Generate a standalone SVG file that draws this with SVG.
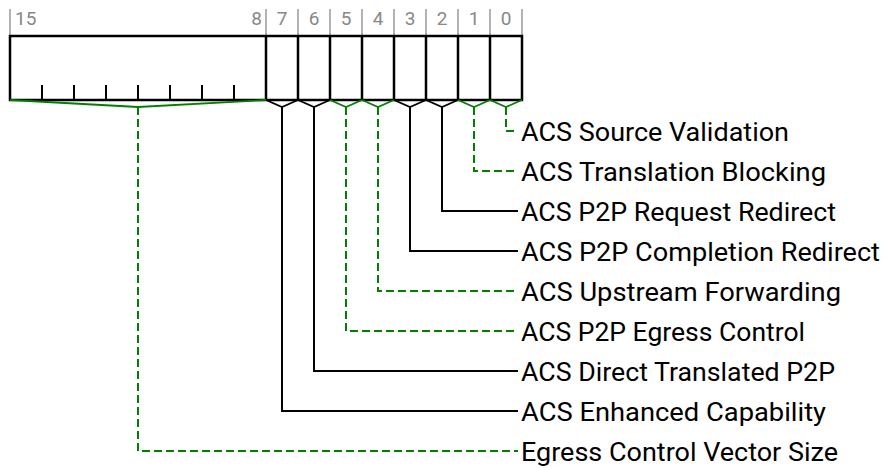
<svg xmlns="http://www.w3.org/2000/svg" width="884" height="468" viewBox="0 0 884 468">
<style>
.bg{fill:#fff}
.num{font-family:Roboto,"Liberation Sans",sans-serif;font-size:19px;fill:#888}
.tick{stroke:#999;stroke-width:1.5;fill:none}
.box{fill:none;stroke:#000;stroke-width:2.5}
.div{stroke:#000;stroke-width:2.5}
.sub{stroke:#000;stroke-width:2}
.lbl{font-family:Roboto,"Liberation Sans",sans-serif;font-size:26px;fill:#000}
.bk{fill:none;stroke:#000;stroke-width:1.8}
.gr{fill:none;stroke:#008000;stroke-width:1.8}
.gd{fill:none;stroke:#008000;stroke-width:2;stroke-dasharray:8 4}
.bs{fill:none;stroke:#000;stroke-width:2}
</style>
<rect class="bg" x="0" y="0" width="884" height="468"/>
<g id="bit-numbers">
<path class="tick" d="M10 9V36M266 9V36M298 9V36M330 9V36M362 9V36M394 9V36M426 9V36M458 9V36M490 9V36M522 9V36"/>
<text class="num" x="15" y="25">15</text>
<text class="num" x="262" y="25" text-anchor="end">8</text>
<text class="num" x="282" y="25" text-anchor="middle">7</text>
<text class="num" x="314" y="25" text-anchor="middle">6</text>
<text class="num" x="346" y="25" text-anchor="middle">5</text>
<text class="num" x="378" y="25" text-anchor="middle">4</text>
<text class="num" x="410" y="25" text-anchor="middle">3</text>
<text class="num" x="442" y="25" text-anchor="middle">2</text>
<text class="num" x="474" y="25" text-anchor="middle">1</text>
<text class="num" x="506" y="25" text-anchor="middle">0</text>
</g>
<g id="register">
<rect class="box" x="10" y="36" width="512" height="64"/>
<path class="div" d="M266 36V100M298 36V100M330 36V100M362 36V100M394 36V100M426 36V100M458 36V100M490 36V100"/>
<path class="sub" d="M42 85V100M74 85V100M106 85V100M138 85V100M170 85V100M202 85V100M234 85V100"/>
</g>
<g id="connectors">
<polyline class="gr" points="10,100 138,107 266,100"/>
<path class="gd" d="M138 107V451H518"/>
<polyline class="bk" points="266,100 282,107 298,100"/>
<path class="bs" d="M282 107V411H518"/>
<polyline class="bk" points="298,100 314,107 330,100"/>
<path class="bs" d="M314 107V371H518"/>
<polyline class="gr" points="330,100 346,107 362,100"/>
<path class="gd" d="M346 107V331H518"/>
<polyline class="gr" points="362,100 378,107 394,100"/>
<path class="gd" d="M378 107V291H518"/>
<polyline class="bk" points="394,100 410,107 426,100"/>
<path class="bs" d="M410 107V251H518"/>
<polyline class="bk" points="426,100 442,107 458,100"/>
<path class="bs" d="M442 107V211H518"/>
<polyline class="gr" points="458,100 474,107 490,100"/>
<path class="gd" d="M474 107V171H518"/>
<polyline class="gr" points="490,100 506,107 522,100"/>
<path class="gd" d="M506 107V131H518"/>
</g>
<g id="label-0"><text class="lbl" x="521" y="141" textLength="268" lengthAdjust="spacingAndGlyphs">ACS Source Validation</text></g>
<g id="label-1"><text class="lbl" x="521" y="181" textLength="305" lengthAdjust="spacingAndGlyphs">ACS Translation Blocking</text></g>
<g id="label-2"><text class="lbl" x="521" y="221" textLength="315" lengthAdjust="spacingAndGlyphs">ACS P2P Request Redirect</text></g>
<g id="label-3"><text class="lbl" x="521" y="261" textLength="359" lengthAdjust="spacingAndGlyphs">ACS P2P Completion Redirect</text></g>
<g id="label-4"><text class="lbl" x="521" y="301" textLength="320" lengthAdjust="spacingAndGlyphs">ACS Upstream Forwarding</text></g>
<g id="label-5"><text class="lbl" x="521" y="341" textLength="284" lengthAdjust="spacingAndGlyphs">ACS P2P Egress Control</text></g>
<g id="label-6"><text class="lbl" x="521" y="381" textLength="314" lengthAdjust="spacingAndGlyphs">ACS Direct Translated P2P</text></g>
<g id="label-7"><text class="lbl" x="521" y="421" textLength="305" lengthAdjust="spacingAndGlyphs">ACS Enhanced Capability</text></g>
<g id="label-15-8"><text class="lbl" x="521" y="461" textLength="317" lengthAdjust="spacingAndGlyphs">Egress Control Vector Size</text></g>
</svg>
